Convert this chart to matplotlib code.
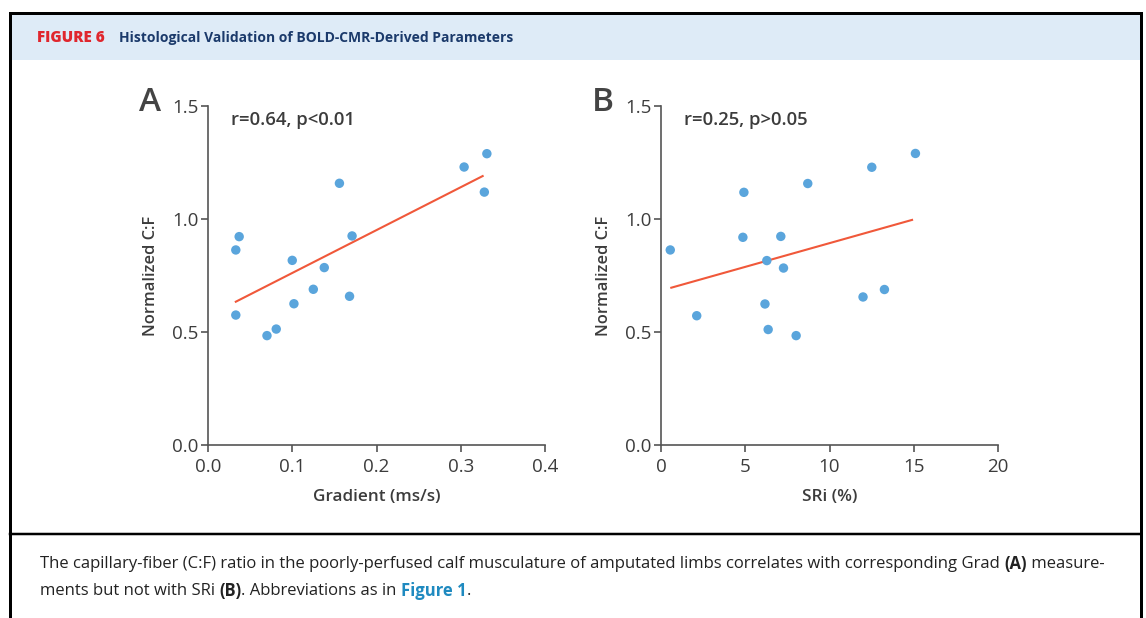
import matplotlib
matplotlib.use('Agg')
import matplotlib.pyplot as plt
from matplotlib.patches import Rectangle
from matplotlib.lines import Line2D

# panel A: gradient vs normalized C:F
grad_x = [0.033, 0.033, 0.037, 0.070, 0.081, 0.100, 0.102, 0.125, 0.138,
          0.156, 0.168, 0.171, 0.304, 0.328, 0.331]
grad_y = [0.575, 0.863, 0.922, 0.484, 0.513, 0.817, 0.625, 0.689, 0.785,
          1.158, 0.658, 0.925, 1.230, 1.119, 1.289]
grad_fit_x = [0.033, 0.326]
grad_fit_y = [0.634, 1.190]

# panel B: SRi vs normalized C:F
sri_x = [0.55, 2.12, 4.86, 4.92, 6.17, 6.28, 6.36, 7.11, 7.27, 8.02,
         8.71, 11.99, 12.51, 13.26, 15.10]
sri_y = [0.863, 0.572, 0.919, 1.118, 0.624, 0.816, 0.511, 0.923, 0.783,
         0.484, 1.157, 0.655, 1.229, 0.688, 1.290]
sri_fit_x = [0.61, 14.9]
sri_fit_y = [0.696, 0.996]

y_ticks = [0.0, 0.5, 1.0, 1.5]
grad_ticks = [0.0, 0.1, 0.2, 0.3, 0.4]
sri_ticks = [0, 5, 10, 15, 20]

W, H = 1146, 618
DOT = '#5aa5dc'
FIT = '#f0583a'
AXC = '#555555'
TXT = '#3c3c3c'
FONT = ['Open Sans', 'DejaVu Sans']
plt.rcParams['font.family'] = FONT

fig = plt.figure(figsize=(W / 100, H / 100), dpi=100)


def fx(px):
    return px / W


def fy(py):
    return 1 - py / H


# frame and header band
fig.patches.append(Rectangle((fx(10), fy(60)), fx(1131), fy(13) - fy(60),
                             transform=fig.transFigure, facecolor='#deebf7',
                             edgecolor='none', zorder=0))
for xs, ys, lw in [([10, 1141], [13, 13], 3), ([10, 10], [13, 618], 3),
                   ([1141, 1141], [13, 618], 3), ([10, 1141], [534, 534], 2.5)]:
    fig.lines.append(Line2D([fx(v) for v in xs], [fy(v) for v in ys],
                            transform=fig.transFigure, color='black', lw=lw * 0.72))

fig.text(fx(37), fy(38), 'FIGURE 6', color='#e0262d', fontsize=11,
         fontweight='heavy', va='center', ha='left')
fig.text(fx(119), fy(38), 'Histological Validation of BOLD-CMR-Derived Parameters',
         color='#1b3a6b', fontsize=10, fontweight='bold', va='center', ha='left')


def panel(rect, xs, ys, fxs, fys, xticks, xlim, xlabel, letter, stat):
    ax = fig.add_axes(rect)
    ax.scatter(xs, ys, s=46, color=DOT, edgecolors='none', zorder=3, clip_on=False)
    ax.plot(fxs, fys, color=FIT, lw=1.5, zorder=2)
    ax.set_xlim(xlim)
    ax.set_ylim(0, 1.5)
    ax.set_xticks(xticks)
    ax.set_yticks(y_ticks)
    ax.set_yticklabels(['%.1f' % v for v in y_ticks])
    if isinstance(xticks[0], float):
        ax.set_xticklabels(['%.1f' % v for v in xticks])
    for s in ['top', 'right']:
        ax.spines[s].set_visible(False)
    for s in ['left', 'bottom']:
        ax.spines[s].set_color(AXC)
        ax.spines[s].set_linewidth(1.2)
    ax.tick_params(direction='out', length=5, width=1.2, color=AXC,
                   labelcolor=TXT, labelsize=13.5, pad=2)
    ax.tick_params(axis='x', pad=4)
    ax.set_xlabel(xlabel, fontsize=12.3, color=TXT, fontweight='semibold', labelpad=10)
    ax.set_ylabel('Normalized C:F', fontsize=11.8, color=TXT, fontweight='semibold',
                  labelpad=9)
    ax.text(0.067, 0.959, stat, transform=ax.transAxes, fontsize=13.3, color=TXT,
            fontweight='semibold', va='center', ha='left')
    ax.text(-0.172, 1.01, letter, transform=ax.transAxes, fontsize=24, color='#444444',
            fontweight='semibold', va='center', ha='center')
    ax.set_facecolor('none')
    return ax


panel([fx(208), fy(445), fx(337), fy(106) - fy(445)], grad_x, grad_y,
      grad_fit_x, grad_fit_y, grad_ticks, (0, 0.4), 'Gradient (ms/s)', 'A',
      'r=0.64, p<0.01')
panel([fx(661), fy(445), fx(337), fy(106) - fy(445)], sri_x, sri_y,
      sri_fit_x, sri_fit_y, sri_ticks, (0, 20), 'SRi (%)', 'B',
      'r=0.25, p>0.05')

# caption with mixed styles
fig.canvas.draw()
rend = fig.canvas.get_renderer()


def run_text(x_px, y_px, pieces):
    x = x_px
    for s, weight, color in pieces:
        t = fig.text(fx(x), fy(y_px), s, fontsize=11.95, fontweight=weight,
                     color=color, va='center', ha='left')
        bb = t.get_window_extent(renderer=rend)
        x += bb.width


CAP = '#222222'
LINK = '#1f8ac0'
run_text(40, 564, [
    ('The capillary-fiber (C:F) ratio in the poorly-perfused calf musculature of '
     'amputated limbs correlates with corresponding Grad ', 'normal', CAP),
    ('(A)', 'bold', CAP), (' measure-', 'normal', CAP)])
run_text(40, 591, [
    ('ments but not with SRi ', 'normal', CAP), ('(B)', 'bold', CAP),
    ('. Abbreviations as in ', 'normal', CAP), ('Figure 1', 'bold', LINK),
    ('.', 'normal', CAP)])

fig.savefig('out.png', dpi=100)
